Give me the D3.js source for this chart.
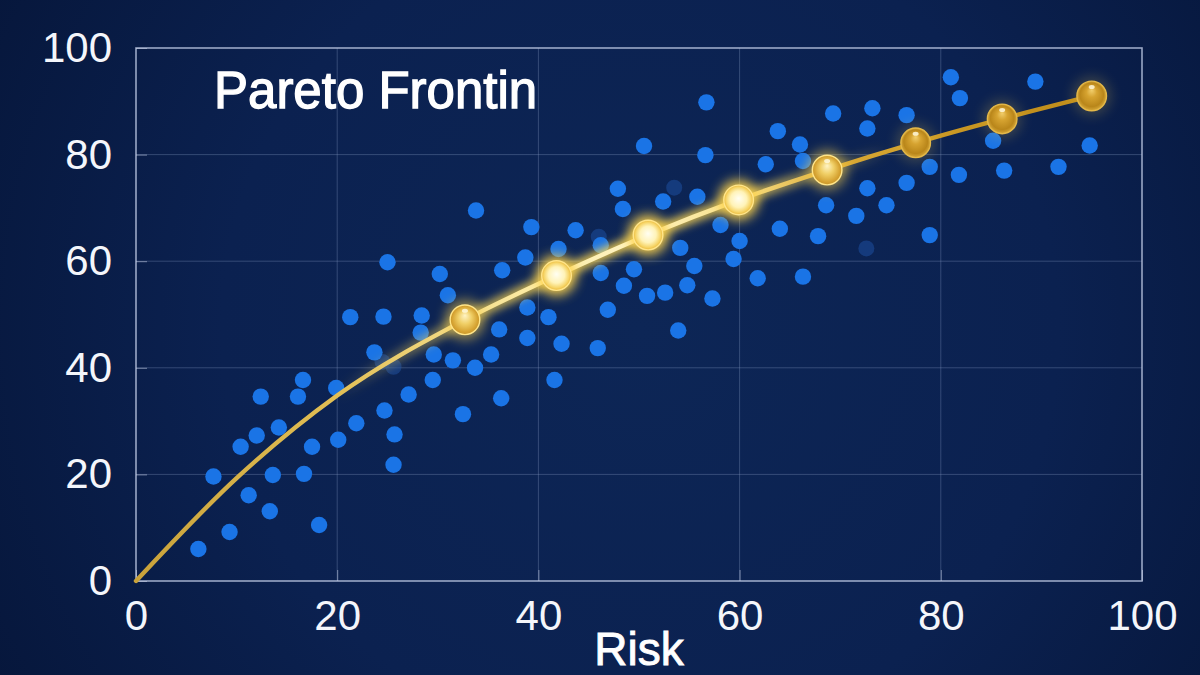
<!DOCTYPE html>
<html>
<head>
<meta charset="utf-8">
<script src="https://cdn.jsdelivr.net/npm/d3@7"></script>
<style>
  body { margin: 0; background: #0a1f4c; }
  svg { display: block; }
</style>
</head>
<body>
<svg id="chart" width="1200" height="675"></svg>
<script>
// ---- data ----
var xTicks = [0, 20, 40, 60, 80, 100];
var yTicks = [0, 20, 40, 60, 80, 100];

// scatter of portfolios (risk, return)
var pointRisk = [
  6.2, 9.3, 7.7, 11.2, 13.3, 13.6, 16.7, 18.2, 10.4, 12.0, 14.2, 17.5, 20.1, 21.9,
  12.4, 16.1, 16.6, 19.9, 24.7, 25.7, 25.6, 27.1, 29.5, 29.6, 23.7, 31.5, 33.7, 32.5,
  33.8, 25.0, 30.2, 31.0, 21.3, 24.6, 28.4, 28.3,
  39.3, 43.7, 42.0, 38.7, 46.2, 36.4, 46.2, 49.5, 48.5, 54.1, 55.5, 54.8, 50.8, 52.6,
  58.1, 60.0, 59.4, 61.8, 57.3, 38.9, 46.9, 41.0, 36.1, 38.9, 53.9, 42.3, 45.9, 35.3,
  41.6, 36.3,
  56.7, 50.5, 56.6, 63.8, 62.6, 47.9, 48.4, 52.4, 55.8, 64.0,
  81.0, 89.4, 81.9, 69.3, 73.2, 76.6, 72.7, 66.0, 66.3, 85.2, 94.8, 78.9, 81.8, 86.3,
  91.7, 72.7, 76.6, 68.6, 74.6, 71.6, 67.8, 78.9, 66.3
];
var pointReturn = [
  6.0, 9.2, 19.6, 16.1, 13.1, 19.9, 20.1, 10.5, 25.2, 27.3, 28.8, 25.2, 26.5, 29.6,
  34.6, 34.6, 37.7, 36.2, 32.0, 27.5, 21.8, 35.0, 37.7, 42.5, 42.9, 41.4, 40.0, 31.3,
  69.5, 59.8, 57.6, 53.6, 49.5, 49.6, 49.8, 46.6,
  66.4, 65.8, 62.3, 60.7, 63.0, 58.3, 57.8, 58.5, 55.4, 62.5, 59.1, 55.5, 53.5, 54.1,
  66.8, 63.8, 60.4, 56.8, 53.0, 51.3, 50.9, 49.5, 47.2, 45.6, 47.0, 44.5, 43.7, 42.5,
  37.7, 34.3,
  89.8, 81.6, 79.9, 84.4, 78.2, 73.6, 69.8, 71.2, 72.1, 66.1,
  94.5, 93.7, 90.6, 87.7, 88.7, 87.4, 84.9, 81.9, 78.8, 82.6, 81.7, 77.7, 76.2, 77.0,
  77.7, 73.7, 74.7, 70.5, 70.5, 68.5, 64.7, 64.9, 57.1
];

// dim points partly hidden behind the frontier glow
var faintRisk = [24.5, 25.6, 46.0, 53.5, 72.6];
var faintReturn = [41.1, 40.2, 64.6, 73.8, 62.4];

// efficient frontier portfolios (the gold markers)
var frontierRisk = [32.7, 41.8, 50.9, 59.9, 68.7, 77.5, 86.1, 95.0];
var frontierReturn = [49.0, 57.3, 64.9, 71.5, 77.1, 82.2, 86.7, 91.0];

// frontier curve before the first marker, starting at the origin
var leadRisk = [0, 10, 20];
var leadReturn = [0, 19.3, 34.8];

var titleText = "Pareto Frontin";
var xLabel = "Risk";

// ---- layout ----
var W = 1200, H = 675;
var plot = {left: 136, right: 1142, top: 48, bottom: 581};

var x = d3.scaleLinear().domain([0, 100]).range([plot.left, plot.right]);
var y = d3.scaleLinear().domain([0, 100]).range([plot.bottom, plot.top]);

var svg = d3.select("#chart");
var defs = svg.append("defs");

// background: dark navy with a soft vignette
var bg = defs.append("radialGradient").attr("id", "bgGrad")
    .attr("gradientUnits", "userSpaceOnUse")
    .attr("cx", 640).attr("cy", 330).attr("r", 760);
bg.append("stop").attr("offset", 0).attr("stop-color", "#0d2656");
bg.append("stop").attr("offset", 0.55).attr("stop-color", "#0b2150");
bg.append("stop").attr("offset", 1).attr("stop-color", "#06163a");

svg.append("rect").attr("width", W).attr("height", H).attr("fill", "url(#bgGrad)");

// blur filters
function blurFilter(id, sd) {
    var f = defs.append("filter").attr("id", id)
        .attr("x", "-50%").attr("y", "-50%").attr("width", "200%").attr("height", "200%");
    f.append("feGaussianBlur").attr("stdDeviation", sd);
}
blurFilter("glow", 6);
blurFilter("lineGlow", 4);

// gradient along the frontier: gold -> bright cream -> deeper gold
var lg = defs.append("linearGradient").attr("id", "lineGrad")
    .attr("gradientUnits", "userSpaceOnUse")
    .attr("x1", x(0)).attr("x2", x(100)).attr("y1", 0).attr("y2", 0);
[[0, "#c9a23a"], [0.2, "#e2bf55"], [0.38, "#fbe9a0"], [0.5, "#fff4c4"],
 [0.6, "#f8df86"], [0.7, "#d9a935"], [0.85, "#c4921f"], [1, "#bd8a1a"]]
    .forEach(function(s) { lg.append("stop").attr("offset", s[0]).attr("stop-color", s[1]); });

var gg = defs.append("linearGradient").attr("id", "lineGlowGrad")
    .attr("gradientUnits", "userSpaceOnUse")
    .attr("x1", x(0)).attr("x2", x(100)).attr("y1", 0).attr("y2", 0);
[[0.2, 0], [0.35, 0.7], [0.5, 0.9], [0.62, 0.7], [0.75, 0]]
    .forEach(function(s) {
        gg.append("stop").attr("offset", s[0]).attr("stop-color", "#ffd850").attr("stop-opacity", s[1]);
    });

// marker fills
function radial(id, stops, fx, fy) {
    var r = defs.append("radialGradient").attr("id", id)
        .attr("cx", 0.5).attr("cy", 0.5).attr("r", 0.5)
        .attr("fx", fx).attr("fy", fy);
    stops.forEach(function(s) { r.append("stop").attr("offset", s[0]).attr("stop-color", s[1]); });
}
radial("bright", [[0, "#fffef2"], [0.55, "#fff3b8"], [0.85, "#f6d466"], [1, "#e9b73a"]], 0.5, 0.45);
radial("medium", [[0, "#fff4c6"], [0.45, "#f0cf66"], [0.85, "#d6a332"], [1, "#c8952a"]], 0.5, 0.35);
radial("gold", [[0, "#f2cf6e"], [0.35, "#d6a330"], [0.8, "#b9861a"], [1, "#d6a83a"]], 0.5, 0.3);

// ---- grid ----
var grid = svg.append("g").attr("class", "grid");
grid.selectAll(".vgrid")
    .data(xTicks.slice(1, -1))
    .enter().append("line")
    .attr("x1", function(d) { return x(d); })
    .attr("x2", function(d) { return x(d); })
    .attr("y1", y(0)).attr("y2", y(100))
    .attr("stroke", "#8597c0").attr("stroke-opacity", 0.35).attr("stroke-width", 1);
grid.selectAll(".hgrid")
    .data(yTicks.slice(1, -1))
    .enter().append("line")
    .attr("x1", x(0)).attr("x2", x(100))
    .attr("y1", function(d) { return y(d); })
    .attr("y2", function(d) { return y(d); })
    .attr("stroke", "#8597c0").attr("stroke-opacity", 0.35).attr("stroke-width", 1);

// frame
svg.append("rect")
    .attr("x", x(0)).attr("y", y(100))
    .attr("width", x(100) - x(0)).attr("height", y(0) - y(100))
    .attr("fill", "none").attr("stroke", "#b4c0dc").attr("stroke-opacity", 0.85)
    .attr("stroke-width", 1.6);

// ---- axes (inward ticks, labels outside) ----
var xAxis = svg.append("g")
    .attr("transform", "translate(0," + y(0) + ")")
    .call(d3.axisBottom(x).tickValues(xTicks).tickSize(-11).tickPadding(19)
        .tickFormat(d3.format("d")));
var yAxis = svg.append("g")
    .attr("transform", "translate(" + x(0) + ",0)")
    .call(d3.axisLeft(y).tickValues(yTicks).tickSize(-11).tickPadding(24)
        .tickFormat(d3.format("d")));

[xAxis, yAxis].forEach(function(a) {
    a.select(".domain").remove();
    a.selectAll(".tick line").attr("stroke", "#c8d2ea").attr("stroke-opacity", 0.55);
    a.selectAll(".tick text")
        .attr("fill", "#f4f6fb")
        .style("font-family", "'Liberation Sans', Arial, sans-serif")
        .style("font-size", "42px");
});

// ---- scatter ----
var pts = pointRisk.map(function(r, i) { return {risk: r, ret: pointReturn[i]}; });
var faint = faintRisk.map(function(r, i) { return {risk: r, ret: faintReturn[i]}; });

svg.append("g").selectAll("circle")
    .data(faint)
    .enter().append("circle")
    .attr("cx", function(d) { return x(d.risk); })
    .attr("cy", function(d) { return y(d.ret); })
    .attr("r", 8)
    .attr("fill", "#1d4f9e").attr("opacity", 0.55);

svg.append("g").selectAll("circle")
    .data(pts)
    .enter().append("circle")
    .attr("cx", function(d) { return x(d.risk); })
    .attr("cy", function(d) { return y(d.ret); })
    .attr("r", 8.2)
    .attr("fill", "#1a74e6");

// ---- frontier ----
var frontier = frontierRisk.map(function(r, i) { return {risk: r, ret: frontierReturn[i]}; });
var curvePts = leadRisk.map(function(r, i) { return {risk: r, ret: leadReturn[i]}; })
    .concat(frontier);

var line = d3.line()
    .x(function(d) { return x(d.risk); })
    .y(function(d) { return y(d.ret); })
    .curve(d3.curveMonotoneX);

svg.append("path")
    .datum(curvePts)
    .attr("d", line)
    .attr("fill", "none")
    .attr("stroke", "url(#lineGlowGrad)")
    .attr("stroke-width", 12)
    .attr("filter", "url(#lineGlow)");

svg.append("path")
    .datum(curvePts)
    .attr("d", line)
    .attr("fill", "none")
    .attr("stroke", "url(#lineGrad)")
    .attr("stroke-width", 4.4)
    .attr("stroke-linecap", "round");

// markers glow brighter towards the middle of the frontier
function level(d) {
    var dist = Math.abs(d.risk - 51);
    return dist < 12 ? "bright" : (dist < 20 ? "medium" : "gold");
}
var glowOpacity = {bright: 0.95, medium: 0.55, gold: 0.18};

var mk = svg.append("g").selectAll("g")
    .data(frontier)
    .enter().append("g")
    .attr("transform", function(d) { return "translate(" + x(d.risk) + "," + y(d.ret) + ")"; });

mk.append("circle")
    .attr("r", 20)
    .attr("fill", "#ffd44a")
    .attr("opacity", function(d) { return glowOpacity[level(d)]; })
    .attr("filter", "url(#glow)");

mk.append("circle")
    .attr("r", 14.8)
    .attr("fill", function(d) { return "url(#" + level(d) + ")"; })
    .attr("stroke", function(d) { return level(d) === "gold" ? "#e4b848" : "#ffe58a"; })
    .attr("stroke-width", 1.4);

mk.filter(function(d) { return level(d) !== "bright"; })
    .append("ellipse")
    .attr("cx", 0).attr("cy", -9)
    .attr("rx", 3).attr("ry", 2)
    .attr("fill", "#fff8dc").attr("opacity", 0.85);

// ---- text (title and axis name are a touch heavier than the ticks) ----
svg.append("text")
    .attr("x", 214).attr("y", 108)
    .attr("fill", "#ffffff")
    .attr("stroke", "#ffffff").attr("stroke-width", 1.3)
    .style("font-family", "'Liberation Sans', Arial, sans-serif")
    .style("font-size", "51px")
    .text(titleText);

svg.append("text")
    .attr("x", (x(0) + x(100)) / 2).attr("y", 665)
    .attr("text-anchor", "middle")
    .attr("fill", "#ffffff")
    .attr("stroke", "#ffffff").attr("stroke-width", 0.9)
    .style("font-family", "'Liberation Sans', Arial, sans-serif")
    .style("font-size", "46px")
    .text(xLabel);
</script>
</body>
</html>
